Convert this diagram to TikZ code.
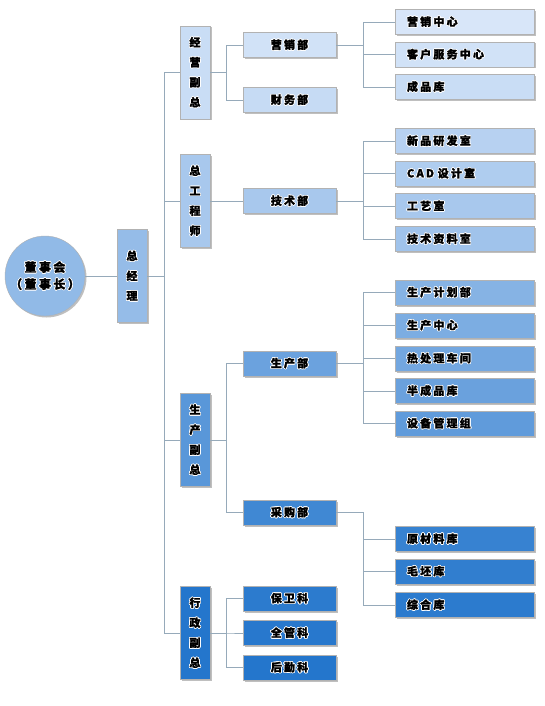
\documentclass[tikz,border=0pt]{standalone}
\usepackage{fontspec}
\setmainfont{Noto Sans CJK SC}[LetterSpace=20, BoldFeatures={FakeBold=1.6}]
\usepackage{contour}
\contourlength{0.7pt}
\contournumber{16}
\usetikzlibrary{shadows}
\definecolor{paleblue}{RGB}{224,235,251}
\definecolor{deepblue}{RGB}{36,118,204}
\definecolor{linkgray}{RGB}{150,170,186}
\newcommand{\hl}[1]{\contour{white}{#1}}
\tikzset{
  box/.style={draw=white!70!black, line width=.4pt, fill=deepblue!#1!paleblue,
    drop shadow={shadow xshift=1.5pt, shadow yshift=-1.5pt, fill=black, opacity=.25},
    font=\bfseries\fontsize{11}{12}\selectfont, inner sep=0pt},
  subbox/.style={box=#1, minimum height=25pt, text width=115pt, inner xsep=12pt, align=left},
  deptbox/.style={box=#1, minimum width=93pt, minimum height=25pt},
  vpbox/.style={box=#1, minimum width=30pt, minimum height=93pt, align=center,
    font=\bfseries\fontsize{11}{20}\selectfont},
  boardcircle/.style={circle, minimum size=80pt, draw=white!70!black, line width=.4pt,
    fill=deepblue!42!paleblue, inner sep=0pt, align=center,
    drop shadow={shadow xshift=1.5pt, shadow yshift=-1.5pt, fill=black, opacity=.25},
    font=\bfseries\fontsize{12}{17}\selectfont},
  link/.style={draw=linkgray, line width=.8pt}
}
\begin{document}
\begin{tikzpicture}[x=1pt, y=-1pt]
  \useasboundingbox (0,0) rectangle (544,706);
  % top of the tree
  \node[boardcircle] (board) at (45,276) {\hl{董事会}\\\hl{（董事长）}};
  \node[vpbox=40] (gm) at (132,276) {\hl{总}\\\hl{经}\\\hl{理}};
  % vice presidents
  \node[vpbox=12] (vp1) at (195,72.5) {\hl{经}\\\hl{营}\\\hl{副}\\\hl{总}};
  \node[vpbox=30] (vp2) at (195,201) {\hl{总}\\\hl{工}\\\hl{程}\\\hl{师}};
  \node[vpbox=72] (vp3) at (195,440) {\hl{生}\\\hl{产}\\\hl{副}\\\hl{总}};
  \node[vpbox=100] (vp4) at (195,633) {\hl{行}\\\hl{政}\\\hl{副}\\\hl{总}};
  % departments
  \node[deptbox=8] (mk) at (289.5,45) {\hl{营销部}};
  \node[deptbox=14] (fin) at (289.5,100) {\hl{财务部}};
  \node[deptbox=30] (tech) at (289.5,201) {\hl{技术部}};
  \node[deptbox=62] (prod) at (289.5,363.5) {\hl{生产部}};
  \node[deptbox=85] (buy) at (289.5,512.5) {\hl{采购部}};
  \node[deptbox=96] (sec) at (289.5,598.5) {\hl{保卫科}};
  \node[deptbox=98] (qual) at (289.5,633) {\hl{全管科}};
  \node[deptbox=100] (log) at (289.5,667.5) {\hl{后勤科}};
  % sections
  \node[subbox=4] (salesctr) at (464.5,22) {\hl{营销中心}};
  \node[subbox=8] (custsvc) at (464.5,54.5) {\hl{客户服务中心}};
  \node[subbox=12] (finished) at (464.5,87) {\hl{成品库}};
  \node[subbox=22] (newprod) at (464.5,141) {\hl{新品研发室}};
  \node[subbox=26] (cad) at (464.5,173.5) {\hl{CAD 设计室}};
  \node[subbox=30] (craft) at (464.5,206) {\hl{工艺室}};
  \node[subbox=34] (techdoc) at (464.5,239) {\hl{技术资料室}};
  \node[subbox=48] (plan) at (464.5,292.5) {\hl{生产计划部}};
  \node[subbox=53] (prodctr) at (464.5,325.5) {\hl{生产中心}};
  \node[subbox=58] (heat) at (464.5,358.5) {\hl{热处理车间}};
  \node[subbox=63] (semi) at (464.5,391) {\hl{半成品库}};
  \node[subbox=68] (equip) at (464.5,423.5) {\hl{设备管理组}};
  \node[subbox=90] (raw) at (464.5,539) {\hl{原材料库}};
  \node[subbox=93] (blank) at (464.5,571.5) {\hl{毛坯库}};
  \node[subbox=96] (general) at (464.5,605) {\hl{综合库}};
  % connectors
  \coordinate (trunk) at (164,0);
  \draw[link] (board) -- (gm);
  \draw[link] (gm.east) -- (gm.east -| trunk);
  \draw[link] (vp1.west -| trunk) -- (vp4.west -| trunk);
  \foreach \v in {vp1,vp2,vp3,vp4}
    \draw[link] (\v.west -| trunk) -- (\v.west);
  \foreach \d in {mk,fin}
    \draw[link] (vp1.east) -- ++(16,0) |- (\d.west);
  \draw[link] (vp2.east) -- (tech.west);
  \foreach \d in {prod,buy}
    \draw[link] (vp3.east) -- ++(16,0) |- (\d.west);
  \foreach \d in {sec,qual,log}
    \draw[link] (vp4.east) -- ++(16,0) |- (\d.west);
  \foreach \s in {salesctr,custsvc,finished}
    \draw[link] (mk.east) -- ++(27,0) |- (\s.west);
  \foreach \s in {newprod,cad,craft,techdoc}
    \draw[link] (tech.east) -- ++(27,0) |- (\s.west);
  \foreach \s in {plan,prodctr,heat,semi,equip}
    \draw[link] (prod.east) -- ++(27,0) |- (\s.west);
  \foreach \s in {raw,blank,general}
    \draw[link] (buy.east) -- ++(27,0) |- (\s.west);
\end{tikzpicture}
\end{document}
